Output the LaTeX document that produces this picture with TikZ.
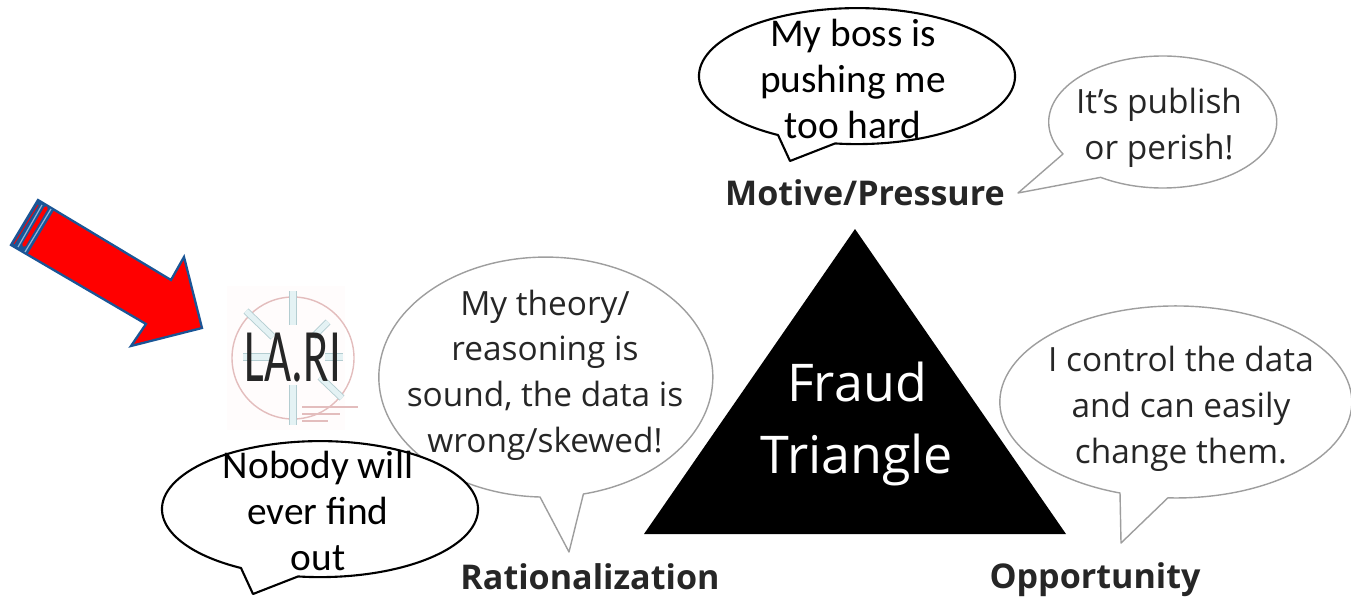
\documentclass[tikz,border=0pt]{standalone}
\usepackage{fontspec}
\setmainfont{Carlito}
\newfontfamily\graytext{Open Sans}
\definecolor{arrowblue}{HTML}{1A5596}
\definecolor{stripeblue}{HTML}{8FB4D6}
\definecolor{logoblue}{HTML}{E4F2F4}
\definecolor{logogray}{HTML}{B4CDD1}
\definecolor{logored}{HTML}{E3BDBD}

\tikzset{
	talk/.style={draw=black, fill=white, line width=1.2pt, line join=round},
	think/.style={draw=black!38, fill=white, line width=0.8pt, line join=round},
	boxtext/.style={font=\fontsize{22.4}{26}\selectfont, align=center, inner sep=0pt},
	quote/.style={font=\graytext\fontsize{19}{26}\selectfont, align=center, inner sep=0pt, text=black!85},
	corner/.style={font=\graytext\bfseries\fontsize{19.4}{22}\selectfont, inner sep=0pt, text=black!85},
	logobar/.style={draw=logogray, double=logoblue, double distance=3pt, line width=0.5pt}
}

\begin{document}
\begin{tikzpicture}[x=0.02cm, y=-0.02cm]
\useasboundingbox (0,0) rectangle (1351,598);

% triangle
\fill[black] (855,229) -- (1066,534) -- (644,534) -- cycle;
\node[font=\graytext\fontsize{29.6}{41}\selectfont, align=center, text=white, inner sep=0pt] (fraud) at (857,424) {Fraud\\Triangle};

% grey bubbles
\draw[think] (1063,154) arc[start angle=151, end angle=483, x radius=114, y radius=66] -- (1018,193) -- cycle;
\draw[think] (540,497) arc[start angle=92, end angle=437, x radius=167, y radius=120] -- (569,552) -- cycle;
\draw[think] (1120,493) arc[start angle=108.5, end angle=452.6, x radius=176, y radius=96] -- (1121,543) -- cycle;

\node[quote] (publish) at (1159,128) {It’s publish\\or perish!};
\node[quote] (theory) at (545,375) {My theory/\\reasoning is\\sound, the data is\\wrong/skewed!};
\node[quote] (control) at (1181,409) {I control the data\\and can easily\\change them.};

% labels
\node[corner] (motive) at (865,193) {Motive/Pressure};
\node[corner] (rational) at (590,577) {Rationalization};
\node[corner] (opportunity) at (1095,580) {Opportunity};

% logo
\fill[red!1] (227,286) rectangle (345,430);
\draw[logored, line width=0.8pt] (293,358) circle[radius=61];
\draw[logobar] (293,291) -- (293,325);
\draw[logobar] (293,385) -- (293,425);
\draw[logobar] (246,311) -- (273,337);
\draw[logobar] (328,322) -- (313,337);
\draw[logobar] (320,377) -- (342,398);
\draw[logobar] (243,357) -- (270,357);
\draw[logobar] (325,357) -- (343,357);
\draw[logored, line width=1pt] (302,407) -- (358,407);
\draw[logored, line width=1pt] (302,414) -- (340,414);
\draw[logored, line width=1pt] (302,421) -- (328,421);
\node[font=\fontsize{43}{43}\selectfont, xscale=0.62, inner sep=0pt, text=black!85] (lari) at (293,358) {LA.RI};

% black bubbles
\draw[talk] (778,135) arc[start angle=120, end angle=458, x radius=158, y radius=68] -- (790,161) -- cycle;
\draw[talk] (241,568) arc[start angle=120, end angle=458, x radius=158, y radius=68] -- (253,594) -- cycle;

\node[boxtext] (boss) at (853,79) {My boss is\\pushing me\\too hard};
\node[boxtext] (nobody) at (318,511) {Nobody will\\ever find\\out};

% red arrow
\draw[fill=red, draw=arrowblue, line width=1.3pt, line join=miter] (38,200) -- (171,280) -- (184,257) -- (202,328) -- (131,346) -- (146,324) -- (11,245) -- cycle;
\fill[arrowblue] (38,200) -- (54,210) -- (27,255) -- (11,245) -- cycle;
\draw[red, line width=0.5pt] (38,205) -- (14,244);
\draw[stripeblue, line width=0.7pt] (42,205) -- (18,247);
\draw[red, line width=2.2pt, line cap=round] (46,208) -- (24,245);
\draw[stripeblue, line width=0.7pt] (51,209) -- (25,252);
\end{tikzpicture}
\end{document}
